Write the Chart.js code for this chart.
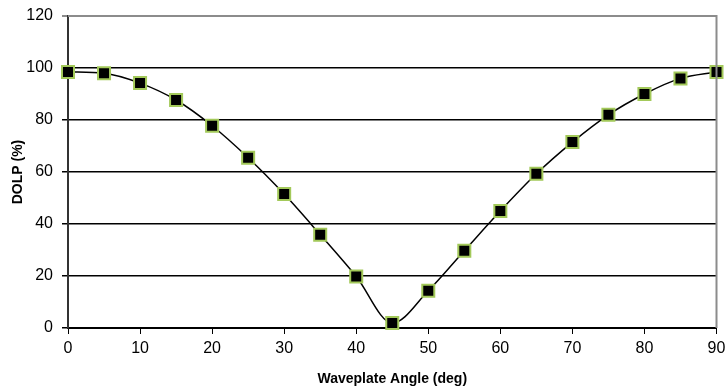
<!DOCTYPE html>
<html>
<head>
<meta charset="utf-8">
<script src="https://cdn.jsdelivr.net/npm/chart.js@4"></script>
<style>
  html, body { margin: 0; padding: 0; background: #fff; }
  #wrap { width: 727px; height: 388px; }
</style>
</head>
<body>
<div id="wrap"><canvas id="c"></canvas></div>
<script>
const angles = [0, 5, 10, 15, 20, 25, 30, 35, 40, 45, 50, 55, 60, 65, 70, 75, 80, 85, 90];
const dolp = [98.5, 98, 94.2, 87.7, 77.8, 65.5, 51.5, 35.9, 19.8, 1.9, 14.3, 29.7, 45, 59.3, 71.5, 82, 90, 96, 98.5];
const yTicks = [0, 20, 40, 60, 80, 100, 120];
const xTicks = [0, 10, 20, 30, 40, 50, 60, 70, 80, 90];

const frame = {
  id: "frame",
  afterDraw(chart) {
    const { ctx, chartArea: a } = chart;
    ctx.save();
    ctx.strokeStyle = "#8c8c8c";
    ctx.lineWidth = 2;
    ctx.beginPath();
    ctx.moveTo(a.left, a.top);
    ctx.lineTo(a.right, a.top);
    ctx.lineTo(a.right, a.bottom);
    ctx.stroke();
    ctx.restore();
  }
};

new Chart(document.getElementById("c").getContext("2d"), {
  type: "line",
  data: {
    datasets: [{
      data: angles.map((a, i) => ({ x: a, y: dolp[i] })),
      borderColor: "#000",
      borderWidth: 1.5,
      cubicInterpolationMode: "monotone",
      pointStyle: "rect",
      pointRadius: 8.5,
      pointBackgroundColor: "#000",
      pointBorderColor: "#a3c95a",
      pointBorderWidth: 2,
      clip: false
    }]
  },
  options: {
    responsive: true,
    maintainAspectRatio: false,
    animation: false,
    layout: { padding: { top: 16, right: 0, left: 0, bottom: 0 } },
    plugins: { legend: { display: false }, tooltip: { enabled: false } },
    scales: {
      x: {
        type: "linear",
        min: 0,
        max: 90,
        afterBuildTicks: s => { s.ticks = xTicks.map(v => ({ value: v })); },
        grid: { drawOnChartArea: false, color: "#000", tickLength: 6 },
        border: { color: "#000", width: 2 },
        ticks: { color: "#000", font: { family: "Liberation Sans", size: 16 }, padding: 5, maxRotation: 0 },
        title: { display: true, text: "Waveplate Angle (deg)", color: "#000", font: { family: "Liberation Sans", size: 14, weight: "bold" }, padding: { top: 4, bottom: 0 } },
        afterFit: s => { s.height = 60; s.paddingRight = 10; }
      },
      y: {
        min: 0,
        max: 120,
        afterBuildTicks: s => { s.ticks = yTicks.map(v => ({ value: v })); },
        grid: { color: c => c.tick && c.tick.value === 120 ? "#8c8c8c" : "#000", lineWidth: c => c.tick && c.tick.value === 120 ? 2 : 1.5, tickLength: 6 },
        border: { color: "#333", width: 2 },
        ticks: { color: "#000", font: { family: "Liberation Sans", size: 16 }, padding: 9 },
        title: { display: true, text: "DOLP (%)", color: "#000", font: { family: "Liberation Sans", size: 14, weight: "bold" }, padding: { top: 10, bottom: 4 } },
        afterFit: s => { s.width = 68; s.paddingTop = 0; s.paddingBottom = 0; }
      }
    }
  },
  plugins: [frame]
});
</script>
</body>
</html>
